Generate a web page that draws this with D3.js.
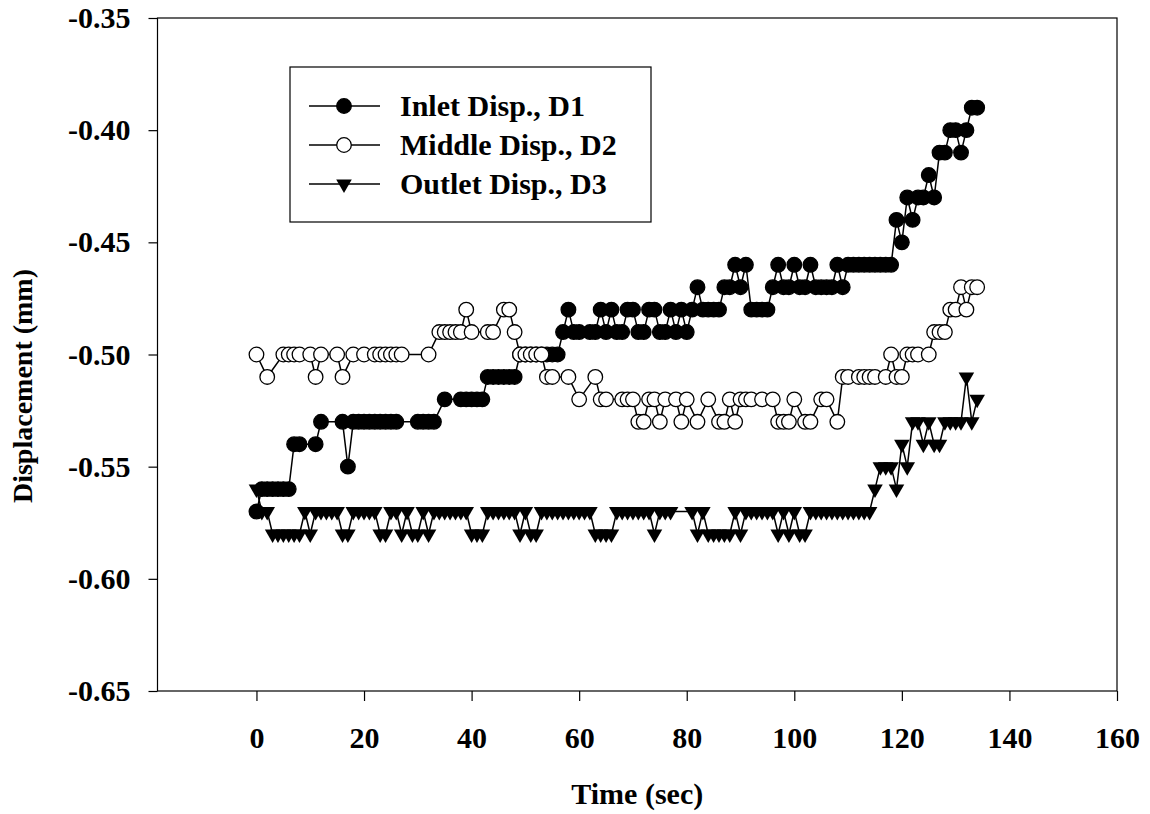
<!DOCTYPE html>
<html>
<head>
<meta charset="utf-8">
<script src="https://cdn.jsdelivr.net/npm/d3@7"></script>
<style>
body { margin: 0; background: #fff; }
text { font-family: "Liberation Serif", "Times New Roman", serif; font-weight: bold; fill: #000; }
</style>
</head>
<body>
<svg id="chart" width="1150" height="814"></svg>
<script>
// axis ticks and legend labels
var xTicks = [0, 20, 40, 60, 80, 100, 120, 140, 160];
var yTicks = [-0.65, -0.60, -0.55, -0.50, -0.45, -0.40, -0.35];
var seriesNames = ["Inlet Disp., D1", "Middle Disp., D2", "Outlet Disp., D3"];

// [time (sec), displacement (mm)]
var inletData = [
    [0,-0.57],[1,-0.56],[2,-0.56],[3,-0.56],[4,-0.56],[5,-0.56],[6,-0.56],[7,-0.54],[8,-0.54],[11,-0.54],
    [12,-0.53],[16,-0.53],[17,-0.55],[18,-0.53],[19,-0.53],[20,-0.53],[21,-0.53],[22,-0.53],[23,-0.53],[24,-0.53],
    [25,-0.53],[26,-0.53],[30,-0.53],[31,-0.53],[32,-0.53],[33,-0.53],[35,-0.52],[38,-0.52],[39,-0.52],[40,-0.52],
    [41,-0.52],[42,-0.52],[43,-0.51],[44,-0.51],[45,-0.51],[46,-0.51],[47,-0.51],[48,-0.51],[49,-0.50],[50,-0.50],
    [51,-0.50],[52,-0.50],[53,-0.50],[54,-0.50],[55,-0.50],[56,-0.50],[57,-0.49],[58,-0.48],[59,-0.49],[60,-0.49],
    [62,-0.49],[63,-0.49],[64,-0.48],[65,-0.49],[66,-0.48],[67,-0.49],[68,-0.49],[69,-0.48],[70,-0.48],[71,-0.49],
    [72,-0.49],[73,-0.48],[74,-0.48],[75,-0.49],[76,-0.49],[77,-0.48],[78,-0.49],[79,-0.48],[80,-0.49],[81,-0.48],
    [82,-0.47],[83,-0.48],[84,-0.48],[85,-0.48],[86,-0.48],[87,-0.47],[88,-0.47],[89,-0.46],[90,-0.47],[91,-0.46],
    [92,-0.48],[93,-0.48],[94,-0.48],[95,-0.48],[96,-0.47],[97,-0.46],[98,-0.47],[99,-0.47],[100,-0.46],[101,-0.47],
    [102,-0.47],[103,-0.46],[104,-0.47],[105,-0.47],[106,-0.47],[107,-0.47],[108,-0.46],[109,-0.47],[110,-0.46],[111,-0.46],
    [112,-0.46],[113,-0.46],[114,-0.46],[115,-0.46],[116,-0.46],[117,-0.46],[118,-0.46],[119,-0.44],[120,-0.45],[121,-0.43],
    [122,-0.44],[123,-0.43],[124,-0.43],[125,-0.42],[126,-0.43],[127,-0.41],[128,-0.41],[129,-0.40],[130,-0.40],[131,-0.41],
    [132,-0.40],[133,-0.39],[134,-0.39]
];

var middleData = [
    [0,-0.50],[2,-0.51],[5,-0.50],[6,-0.50],[7,-0.50],[8,-0.50],[10,-0.50],[11,-0.51],[12,-0.50],[15,-0.50],
    [16,-0.51],[18,-0.50],[20,-0.50],[22,-0.50],[23,-0.50],[24,-0.50],[25,-0.50],[26,-0.50],[27,-0.50],[32,-0.50],
    [34,-0.49],[35,-0.49],[36,-0.49],[37,-0.49],[38,-0.49],[39,-0.48],[40,-0.49],[43,-0.49],[44,-0.49],[46,-0.48],
    [47,-0.48],[48,-0.49],[49,-0.50],[50,-0.50],[51,-0.50],[52,-0.50],[53,-0.50],[54,-0.51],[55,-0.51],[58,-0.51],
    [60,-0.52],[63,-0.51],[64,-0.52],[65,-0.52],[68,-0.52],[69,-0.52],[70,-0.52],[71,-0.53],[72,-0.53],[73,-0.52],
    [74,-0.52],[75,-0.53],[76,-0.52],[78,-0.52],[79,-0.53],[80,-0.52],[82,-0.53],[84,-0.52],[86,-0.53],[87,-0.53],
    [88,-0.52],[89,-0.53],[90,-0.52],[91,-0.52],[92,-0.52],[94,-0.52],[96,-0.52],[97,-0.53],[98,-0.53],[99,-0.53],
    [100,-0.52],[102,-0.53],[103,-0.53],[105,-0.52],[106,-0.52],[108,-0.53],[109,-0.51],[110,-0.51],[112,-0.51],[113,-0.51],
    [114,-0.51],[115,-0.51],[117,-0.51],[118,-0.50],[119,-0.51],[120,-0.51],[121,-0.50],[122,-0.50],[123,-0.50],[125,-0.50],
    [126,-0.49],[127,-0.49],[128,-0.49],[129,-0.48],[130,-0.48],[131,-0.47],[132,-0.48],[133,-0.47],[134,-0.47]
];

var outletData = [
    [0,-0.56],[1,-0.57],[2,-0.57],[3,-0.58],[4,-0.58],[5,-0.58],[6,-0.58],[7,-0.58],[8,-0.58],[9,-0.57],
    [10,-0.58],[11,-0.57],[12,-0.57],[13,-0.57],[14,-0.57],[15,-0.57],[16,-0.58],[17,-0.58],[18,-0.57],[19,-0.57],
    [20,-0.57],[21,-0.57],[22,-0.57],[23,-0.58],[24,-0.58],[25,-0.57],[26,-0.57],[27,-0.58],[28,-0.57],[29,-0.58],
    [30,-0.58],[31,-0.57],[32,-0.58],[33,-0.57],[34,-0.57],[35,-0.57],[36,-0.57],[37,-0.57],[38,-0.57],[39,-0.57],
    [40,-0.58],[41,-0.58],[42,-0.58],[43,-0.57],[44,-0.57],[45,-0.57],[46,-0.57],[47,-0.57],[48,-0.57],[49,-0.58],
    [50,-0.57],[51,-0.58],[52,-0.58],[53,-0.57],[54,-0.57],[55,-0.57],[56,-0.57],[57,-0.57],[58,-0.57],[59,-0.57],
    [60,-0.57],[61,-0.57],[62,-0.57],[63,-0.58],[64,-0.58],[65,-0.58],[66,-0.58],[67,-0.57],[68,-0.57],[69,-0.57],
    [70,-0.57],[71,-0.57],[72,-0.57],[73,-0.57],[74,-0.58],[75,-0.57],[76,-0.57],[77,-0.57],[81,-0.57],[82,-0.58],
    [83,-0.57],[84,-0.58],[85,-0.58],[86,-0.58],[87,-0.58],[88,-0.58],[89,-0.57],[90,-0.58],[91,-0.57],[92,-0.57],
    [93,-0.57],[94,-0.57],[95,-0.57],[96,-0.57],[97,-0.58],[98,-0.57],[99,-0.58],[100,-0.57],[101,-0.58],[102,-0.58],
    [103,-0.57],[104,-0.57],[105,-0.57],[106,-0.57],[107,-0.57],[108,-0.57],[109,-0.57],[110,-0.57],[111,-0.57],[112,-0.57],
    [113,-0.57],[114,-0.57],[115,-0.56],[116,-0.55],[117,-0.55],[118,-0.55],[119,-0.56],[120,-0.54],[121,-0.55],[122,-0.53],
    [123,-0.53],[124,-0.54],[125,-0.53],[126,-0.54],[127,-0.54],[128,-0.53],[129,-0.53],[130,-0.53],[131,-0.53],[132,-0.51],
    [133,-0.53],[134,-0.52]
];

var svg = d3.select("#chart");
var plotLeft = 157.5, plotRight = 1117, plotTop = 18, plotBottom = 691;

var x = d3.scaleLinear().domain([-18.4, 160]).range([plotLeft, plotRight]);
var y = d3.scaleLinear().domain([-0.65, -0.35]).range([plotBottom, plotTop]);

// frame round the plot
svg.append("rect")
    .attr("x", plotLeft).attr("y", plotTop)
    .attr("width", plotRight - plotLeft).attr("height", plotBottom - plotTop)
    .attr("fill", "none").attr("stroke", "#000").attr("stroke-width", 1.2);

var xAxis = svg.append("g")
    .attr("transform", "translate(0," + plotBottom + ")")
    .call(d3.axisBottom(x).tickValues(xTicks).tickSize(10).tickPadding(26));
var yAxis = svg.append("g")
    .attr("transform", "translate(" + plotLeft + ",0)")
    .call(d3.axisLeft(y).tickValues(yTicks).tickSize(9).tickPadding(18)
        .tickFormat(function(d) { return d.toFixed(2); }));

[xAxis, yAxis].forEach(function(ax) {
    ax.select(".domain").remove();
    ax.selectAll(".tick line").attr("stroke", "#000").attr("stroke-width", 1.2);
    ax.selectAll(".tick text")
        .style("font-family", '"Liberation Serif", "Times New Roman", serif')
        .style("font-weight", "bold").style("font-size", "30px").attr("fill", "#000");
});

// axis titles
svg.append("text")
    .attr("x", (plotLeft + plotRight) / 2).attr("y", 804)
    .attr("text-anchor", "middle").style("font-size", "30px")
    .text("Time (sec)");
svg.append("text")
    .attr("transform", "translate(32,386) rotate(-90)")
    .attr("text-anchor", "middle").style("font-size", "28px")
    .text("Displacement (mm)");

var line = d3.line()
    .x(function(d) { return x(d[0]); })
    .y(function(d) { return y(d[1]); });

var triangle = d3.symbol().type(d3.symbolTriangle).size(105);

var addMarker = function(g, kind, px, py) {
    if (kind == "tri") {
        g.append("path")
            .attr("d", triangle)
            .attr("transform", "translate(" + px + "," + py + ") rotate(180)")
            .attr("fill", "#000");
    } else {
        g.append("circle")
            .attr("cx", px).attr("cy", py).attr("r", 7.3)
            .attr("fill", kind == "open" ? "#fff" : "#000")
            .attr("stroke", "#000").attr("stroke-width", 1.3);
    }
}

var drawSeries = function(data, kind) {
    var g = svg.append("g");
    g.append("path")
        .datum(data)
        .attr("d", line)
        .attr("fill", "none").attr("stroke", "#000").attr("stroke-width", 1.5);
    for (var ii = 0; ii < data.length; ii++) {
        addMarker(g, kind, x(data[ii][0]), y(data[ii][1]));
    }
}

drawSeries(inletData, "filled");
drawSeries(middleData, "open");
drawSeries(outletData, "tri");

/* legend */
var legend = svg.append("g");
legend.append("rect")
    .attr("x", 290).attr("y", 67).attr("width", 361).attr("height", 155)
    .attr("fill", "#fff").attr("stroke", "#000").attr("stroke-width", 1.2);
var kinds = ["filled", "open", "tri"];
for (var kk = 0; kk < seriesNames.length; kk++) {
    var ly = 106 + kk * 39;
    legend.append("line")
        .attr("x1", 309).attr("x2", 380).attr("y1", ly).attr("y2", ly)
        .attr("stroke", "#000").attr("stroke-width", 1.5);
    addMarker(legend, kinds[kk], 344, ly);
    legend.append("text")
        .attr("x", 400).attr("y", ly + 10)
        .style("font-size", "30px")
        .text(seriesNames[kk]);
}
</script>
</body>
</html>
